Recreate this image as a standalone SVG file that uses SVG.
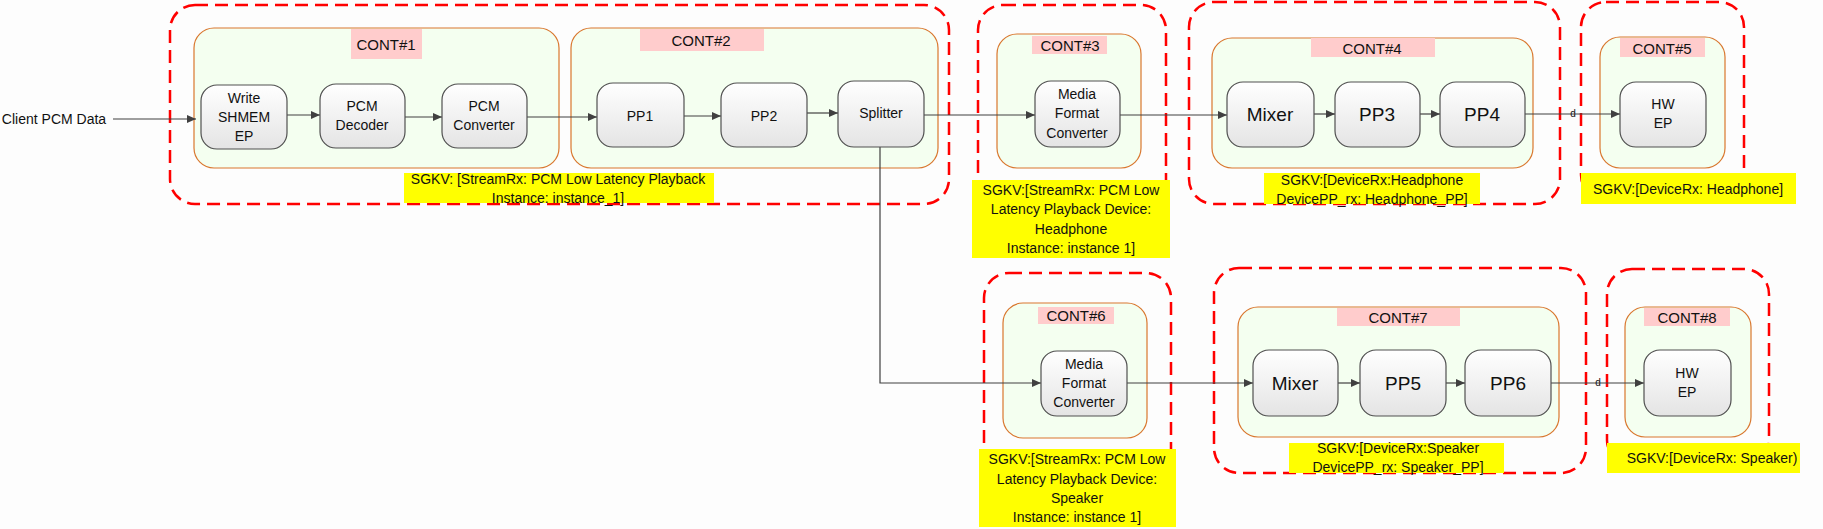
<svg xmlns="http://www.w3.org/2000/svg" width="1823" height="529" viewBox="0 0 1823 529">
<defs>
<linearGradient id="ng" x1="0" y1="0" x2="0" y2="1">
<stop offset="0" stop-color="#FFFFFF"/>
<stop offset="1" stop-color="#E4E4E4"/>
</linearGradient>
<marker id="ah" markerWidth="10" markerHeight="8" refX="9" refY="4" orient="auto" markerUnits="userSpaceOnUse">
<path d="M0,0 L9,4 L0,8 Z" fill="#404040"/>
</marker>
<style>
text{font-family:"Liberation Sans",Arial,sans-serif;fill:#111;text-anchor:middle;dominant-baseline:central}
.grp{fill:none;stroke:#FF0000;stroke-width:2.5;stroke-dasharray:13 7}
.cont{fill:#F4FFF0;stroke:#D9772E;stroke-width:1.2}
.lbl{fill:#FFCCCC}
.node{fill:url(#ng);stroke:#505050;stroke-width:1.2}
.sg{fill:#FFFF00}
.c{fill:none;stroke:#404040;stroke-width:1.2;marker-end:url(#ah)}
.t14{font-size:14px}
.t15{font-size:15px}
.t19{font-size:19px}
.d{font-size:10px}
</style>
</defs>
<rect width="1823" height="529" fill="#FDFDFD"/>

<g id="groups">
<rect class="grp" x="170" y="5" width="779" height="199" rx="25"/>
<rect class="grp" x="978" y="5" width="188" height="225" rx="25"/>
<rect class="grp" x="1189" y="2" width="371" height="202" rx="25"/>
<rect class="grp" x="1581" y="2" width="163" height="198" rx="25"/>
<rect class="grp" x="984" y="273" width="187" height="207" rx="25"/>
<rect class="grp" x="1214" y="268" width="372" height="205" rx="25"/>
<rect class="grp" x="1607" y="269" width="162" height="196" rx="25"/>
</g>

<g id="cont1"><rect class="cont" x="194" y="28" width="365" height="140" rx="20"/><rect class="lbl" x="351" y="29" width="71" height="30"/><text class="t15" x="386" y="44">CONT#1</text></g>
<g id="cont2"><rect class="cont" x="571" y="28" width="367" height="140" rx="20"/><rect class="lbl" x="640" y="29" width="124" height="22"/><text class="t15" x="701" y="40">CONT#2</text></g>
<g id="cont3"><rect class="cont" x="997" y="34" width="144" height="134" rx="20"/><rect class="lbl" x="1032" y="36" width="75" height="18"/><text class="t15" x="1070" y="45">CONT#3</text></g>
<g id="cont4"><rect class="cont" x="1212" y="38" width="321" height="130" rx="20"/><rect class="lbl" x="1311" y="38" width="124" height="19"/><text class="t15" x="1372" y="48">CONT#4</text></g>
<g id="cont5"><rect class="cont" x="1600" y="37" width="125" height="131" rx="20"/><rect class="lbl" x="1620" y="38" width="85" height="19"/><text class="t15" x="1662" y="48">CONT#5</text></g>
<g id="cont6"><rect class="cont" x="1003" y="303" width="144" height="135" rx="20"/><rect class="lbl" x="1038" y="307" width="76" height="17"/><text class="t15" x="1076" y="315">CONT#6</text></g>
<g id="cont7"><rect class="cont" x="1238" y="307" width="321" height="130" rx="20"/><rect class="lbl" x="1337" y="308" width="123" height="18"/><text class="t15" x="1398" y="317">CONT#7</text></g>
<g id="cont8"><rect class="cont" x="1625" y="307" width="126" height="130" rx="20"/><rect class="lbl" x="1644" y="308" width="86" height="18"/><text class="t15" x="1687" y="317">CONT#8</text></g>

<g id="connectors">
<text class="t14" x="54" y="119">Client PCM Data</text>
<line class="c" x1="113" y1="119" x2="196" y2="119"/>
<line class="c" x1="287" y1="115" x2="320" y2="115"/>
<line class="c" x1="405" y1="117" x2="442" y2="117"/>
<line class="c" x1="527" y1="117" x2="597" y2="117"/>
<line class="c" x1="684" y1="116" x2="721" y2="116"/>
<line class="c" x1="807" y1="113" x2="838" y2="113"/>
<line class="c" x1="924" y1="115" x2="1035" y2="115"/>
<line class="c" x1="1120" y1="115" x2="1227" y2="115"/>
<line class="c" x1="1314" y1="114" x2="1335" y2="114"/>
<line class="c" x1="1420" y1="114" x2="1440" y2="114"/>
<line class="c" x1="1525" y1="114" x2="1620" y2="114"/>
<text class="d" x="1573" y="113">d</text>
<polyline class="c" points="880,147 880,383 1041,383"/>
<line class="c" x1="1127" y1="383" x2="1253" y2="383"/>
<line class="c" x1="1338" y1="383" x2="1360" y2="383"/>
<line class="c" x1="1446" y1="383" x2="1465" y2="383"/>
<line class="c" x1="1551" y1="383" x2="1644" y2="383"/>
<text class="d" x="1598" y="382">d</text>
</g>

<g id="write_shmem_ep"><rect class="node" x="201" y="85" width="86" height="64" rx="16"/><text class="t14" x="244" y="98">Write</text><text class="t14" x="244" y="117">SHMEM</text><text class="t14" x="244" y="136">EP</text></g>
<g id="pcm_decoder"><rect class="node" x="320" y="84" width="85" height="64" rx="16"/><text class="t14" x="362" y="106">PCM</text><text class="t14" x="362" y="125">Decoder</text></g>
<g id="pcm_converter"><rect class="node" x="442" y="84" width="85" height="64" rx="16"/><text class="t14" x="484" y="106">PCM</text><text class="t14" x="484" y="125">Converter</text></g>
<g id="pp1"><rect class="node" x="597" y="83" width="87" height="64" rx="16"/><text class="t14" x="640" y="116">PP1</text></g>
<g id="pp2"><rect class="node" x="721" y="83" width="86" height="64" rx="16"/><text class="t14" x="764" y="116">PP2</text></g>
<g id="splitter"><rect class="node" x="838" y="81" width="86" height="66" rx="16"/><text class="t14" x="881" y="113">Splitter</text></g>
<g id="mfc_1"><rect class="node" x="1035" y="81" width="85" height="66" rx="16"/><text class="t14" x="1077" y="94">Media</text><text class="t14" x="1077" y="113">Format</text><text class="t14" x="1077" y="133">Converter</text></g>
<g id="mixer_1"><rect class="node" x="1227" y="82" width="87" height="65" rx="16"/><text class="t19" x="1270" y="114">Mixer</text></g>
<g id="pp3"><rect class="node" x="1335" y="82" width="85" height="65" rx="16"/><text class="t19" x="1377" y="114">PP3</text></g>
<g id="pp4"><rect class="node" x="1440" y="82" width="85" height="65" rx="16"/><text class="t19" x="1482" y="114">PP4</text></g>
<g id="hw_ep_1"><rect class="node" x="1620" y="82" width="86" height="65" rx="16"/><text class="t14" x="1663" y="104">HW</text><text class="t14" x="1663" y="123">EP</text></g>
<g id="mfc_2"><rect class="node" x="1041" y="351" width="86" height="65" rx="16"/><text class="t14" x="1084" y="364">Media</text><text class="t14" x="1084" y="383">Format</text><text class="t14" x="1084" y="402">Converter</text></g>
<g id="mixer_2"><rect class="node" x="1253" y="350" width="85" height="66" rx="16"/><text class="t19" x="1295" y="383">Mixer</text></g>
<g id="pp5"><rect class="node" x="1360" y="350" width="86" height="66" rx="16"/><text class="t19" x="1403" y="383">PP5</text></g>
<g id="pp6"><rect class="node" x="1465" y="350" width="86" height="66" rx="16"/><text class="t19" x="1508" y="383">PP6</text></g>
<g id="hw_ep_2"><rect class="node" x="1644" y="350" width="87" height="66" rx="16"/><text class="t14" x="1687" y="373">HW</text><text class="t14" x="1687" y="392">EP</text></g>

<g id="sgkv1"><rect class="sg" x="404" y="173" width="310" height="30"/><text class="t14" x="558" y="179">SGKV: [StreamRx: PCM Low Latency Playback</text><text class="t14" x="558" y="198">Instance: instance_1]</text></g>
<g id="sgkv3"><rect class="sg" x="972" y="180" width="198" height="78"/><text class="t14" x="1071" y="190">SGKV:[StreamRx: PCM Low</text><text class="t14" x="1071" y="209">Latency Playback Device:</text><text class="t14" x="1071" y="229">Headphone</text><text class="t14" x="1071" y="248">Instance: instance 1]</text></g>
<g id="sgkv4"><rect class="sg" x="1264" y="173" width="216" height="31"/><text class="t14" x="1372" y="180">SGKV:[DeviceRx:Headphone</text><text class="t14" x="1372" y="199">DevicePP_rx: Headphone_PP]</text></g>
<g id="sgkv5"><rect class="sg" x="1581" y="173" width="215" height="31"/><text class="t14" x="1688" y="189">SGKV:[DeviceRx: Headphone]</text></g>
<g id="sgkv6"><rect class="sg" x="979" y="449" width="197" height="78"/><text class="t14" x="1077" y="459">SGKV:[StreamRx: PCM Low</text><text class="t14" x="1077" y="479">Latency Playback Device:</text><text class="t14" x="1077" y="498">Speaker</text><text class="t14" x="1077" y="517">Instance: instance 1]</text></g>
<g id="sgkv7"><rect class="sg" x="1289" y="443" width="215" height="30"/><text class="t14" x="1398" y="448">SGKV:[DeviceRx:Speaker</text><text class="t14" x="1398" y="467">DevicePP_rx: Speaker_PP]</text></g>
<g id="sgkv8"><rect class="sg" x="1607" y="443" width="193" height="30"/><text class="t14" x="1712" y="458">SGKV:[DeviceRx: Speaker)</text></g>
</svg>
